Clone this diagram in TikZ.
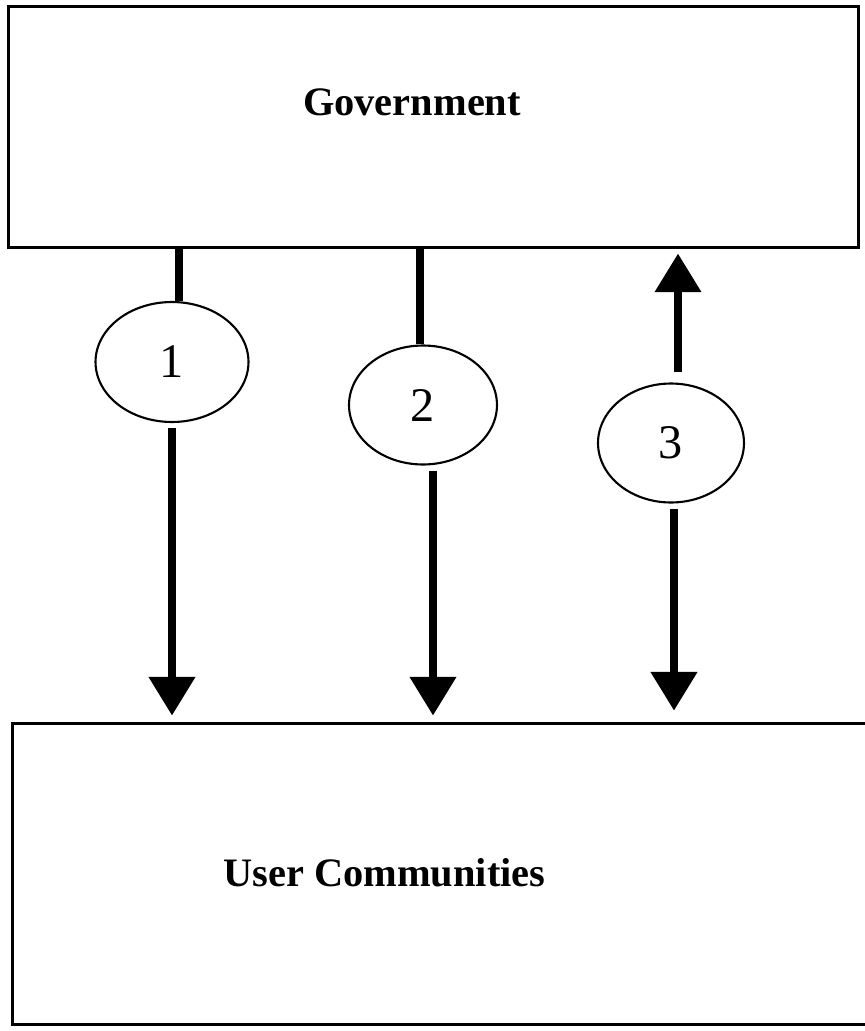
\documentclass[tikz,border=0pt]{standalone}
\usepackage{fontspec}
\setmainfont{Liberation Serif}
\usetikzlibrary{%
  positioning
 ,arrows.meta
 ,shapes
}
\tikzstyle{box}=[rectangle,draw=black,line width=1.7pt,inner sep=0pt]
\tikzstyle{oval}=[ellipse,draw=black,line width=1.2pt,inner sep=0pt,font=\fontsize{27.5}{32}\selectfont]
\tikzstyle{title}=[inner sep=0pt,font=\fontsize{23}{27}\selectfont\bfseries]
\tikzstyle{shaft}=[line width=4.5pt]
\tikzstyle{arr}=[shaft,-{Triangle[length=22pt,width=25.5pt]}]

\begin{document}
\begin{tikzpicture}[x=0.02cm,y=-0.02cm]
      \useasboundingbox (0,0) rectangle (865,1031);
      \clip (0,0) rectangle (865,1031);
      \node[box,minimum width=17.02cm,minimum height=4.84cm] (gov) at (433.5,127) {};
      \node[box,minimum width=17.16cm,minimum height=6.04cm] (user) at (441,874) {};
      \node[title,anchor=base] (govname) at (412,115) {Government};
      \node[title,anchor=base west] (username) at (223,886) {User Communities};
      \node[oval,minimum width=3.06cm,minimum height=2.4cm] (e1) at (172,362) {1};
      \node[oval,minimum width=2.96cm,minimum height=2.38cm] (e2) at (423,405) {2};
      \node[oval,minimum width=2.92cm,minimum height=2.38cm] (e3) at (671,443) {3};
      \coordinate (x1) at (179,0);
      \coordinate (x2) at (420,0);
      \coordinate (x2b) at (433,0);
      \coordinate (x3) at (678,0);
      \coordinate (x3b) at (674,0);
      \draw[shaft] (gov.south -| x1) -- (e1.north -| x1);
      \draw[arr,shorten <=3pt,shorten >=3.4pt] (e1.south) -- (user.north -| e1.south);
      \draw[shaft] (gov.south -| x2) -- (e2.north -| x2);
      \draw[arr,shorten <=3pt,shorten >=3.4pt] (e2.south -| x2b) -- (user.north -| x2b);
      \draw[arr,shorten <=5.7pt,shorten >=2.3pt] (e3.north -| x3) -- (gov.south -| x3);
      \draw[arr,shorten <=3pt,shorten >=6.2pt] (e3.south -| x3b) -- (user.north -| x3b);
    \end{tikzpicture}
\end{document}
